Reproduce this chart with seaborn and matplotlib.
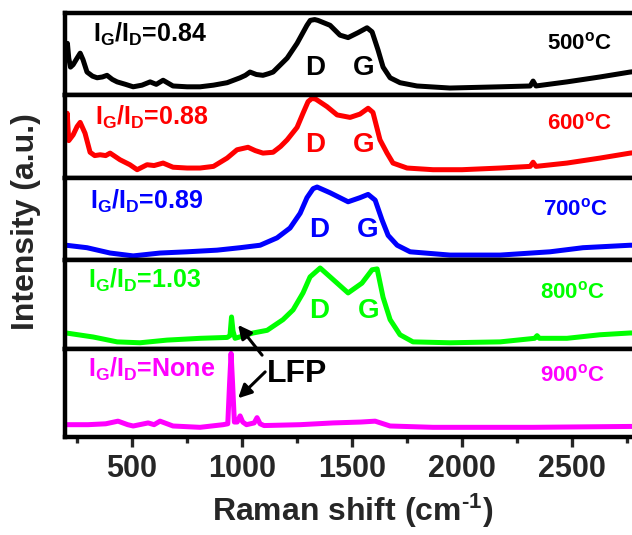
import matplotlib
matplotlib.use("Agg")
import numpy as np
import pandas as pd
import matplotlib.pyplot as plt
from matplotlib.ticker import MultipleLocator
import seaborn as sns

# ---------------- data (intensity in panel units 0..1) ----------------
temps = ["500", "600", "700", "800", "900"]
ratios = ["0.84", "0.88", "0.89", "1.03", "None"]

x_500 = [200, 206, 212, 220, 232, 250, 264, 277, 295, 320, 341, 365, 386, 410, 432, 470, 505, 545,
         582, 610, 641, 686, 750, 809, 870, 932, 991, 1015, 1036, 1065, 1095, 1120, 1141, 1175, 1205,
         1250, 1295, 1310, 1330, 1345, 1400, 1445, 1482, 1527, 1568, 1591, 1618, 1641, 1673, 1718,
         1795, 1945, 2173, 2310, 2323, 2336, 2477, 2627, 2764, 2800]
y_500 = [0.50, 0.63, 0.45, 0.34, 0.37, 0.45, 0.51, 0.43, 0.28, 0.23, 0.21, 0.22, 0.24, 0.19, 0.16,
         0.13, 0.10, 0.12, 0.16, 0.13, 0.18, 0.11, 0.10, 0.10, 0.12, 0.15, 0.21, 0.24, 0.28, 0.25,
         0.24, 0.26, 0.28, 0.37, 0.45, 0.63, 0.85, 0.91, 0.92, 0.91, 0.85, 0.73, 0.70, 0.76, 0.82,
         0.77, 0.55, 0.34, 0.21, 0.15, 0.11, 0.085, 0.10, 0.11, 0.17, 0.11, 0.16, 0.22, 0.28, 0.29]

x_600 = [200, 205, 212, 232, 250, 264, 286, 309, 330, 355, 380, 400, 445, 490, 523, 568, 600, 641,
         686, 750, 809, 870, 932, 977, 1027, 1060, 1095, 1141, 1175, 1205, 1250, 1277, 1300, 1318,
         1335, 1386, 1432, 1491, 1536, 1573, 1595, 1627, 1659, 1686, 1750, 1868, 2000, 2173, 2310,
         2323, 2336, 2477, 2627, 2764, 2800]
y_600 = [0.55, 0.78, 0.45, 0.52, 0.62, 0.67, 0.54, 0.31, 0.27, 0.28, 0.27, 0.30, 0.22, 0.16, 0.10,
         0.16, 0.15, 0.18, 0.13, 0.12, 0.12, 0.14, 0.24, 0.34, 0.37, 0.33, 0.30, 0.31, 0.38, 0.46,
         0.61, 0.78, 0.92, 0.96, 0.95, 0.86, 0.76, 0.73, 0.77, 0.84, 0.79, 0.46, 0.30, 0.18, 0.12,
         0.10, 0.10, 0.12, 0.14, 0.19, 0.14, 0.18, 0.24, 0.30, 0.31]

x_700 = [200, 295, 400, 505, 627, 750, 886, 991, 1082, 1159, 1218, 1264, 1295, 1323, 1341, 1400,
         1482, 1536, 1573, 1605, 1636, 1664, 1705, 1764, 1945, 2173, 2400, 2550, 2764, 2800]
y_700 = [0.18, 0.15, 0.085, 0.05, 0.085, 0.10, 0.12, 0.15, 0.18, 0.27, 0.39, 0.57, 0.76, 0.87,
         0.89, 0.82, 0.71, 0.76, 0.80, 0.73, 0.49, 0.30, 0.18, 0.10, 0.06, 0.06, 0.10, 0.15, 0.18,
         0.18]

x_800 = [200, 323, 432, 536, 659, 809, 932, 945, 952, 959, 968, 1050, 1114, 1186, 1232, 1277, 1309,
         1355, 1414, 1482, 1545, 1591, 1614, 1641, 1673, 1718, 1777, 1945, 2173, 2330, 2341, 2352,
         2477, 2627, 2764, 2800]
y_800 = [0.18, 0.135, 0.08, 0.07, 0.10, 0.12, 0.13, 0.15, 0.36, 0.20, 0.12, 0.18, 0.21, 0.33, 0.44,
         0.63, 0.81, 0.91, 0.78, 0.63, 0.74, 0.89, 0.90, 0.58, 0.33, 0.16, 0.08, 0.07, 0.08, 0.12,
         0.15, 0.12, 0.12, 0.16, 0.18, 0.18]

x_900 = [200, 300, 380, 436, 480, 505, 573, 600, 627, 686, 809, 914, 935, 943, 950, 957, 965, 978,
         991, 1003, 1020, 1055, 1068, 1082, 1100, 1264, 1414, 1540, 1605, 1673, 1868, 2323, 2764, 2800]
y_900 = [0.14, 0.14, 0.15, 0.18, 0.14, 0.125, 0.16, 0.14, 0.18, 0.125, 0.11, 0.14, 0.15, 0.60, 0.95,
         0.60, 0.17, 0.17, 0.24, 0.17, 0.14, 0.16, 0.22, 0.15, 0.13, 0.14, 0.16, 0.17, 0.18, 0.125,
         0.11, 0.11, 0.12, 0.12]

xs = [x_500, x_600, x_700, x_800, x_900]
ys = [y_500, y_600, y_700, y_800, y_900]

xticks_major = [500, 1000, 1500, 2000, 2500]

# ---------------- styles / layout ----------------
colors = ["#000000", "#FF0000", "#0000FF", "#00FF00", "#FF00FF"]
ratio_pos = [(323, 0.65), (332, 0.64), (309, 0.63), (300, 0.69), (300, 0.68)]
temp_pos = [(2682, 0.55), (2682, 0.58), (2664, 0.55), (2650, 0.57), (2650, 0.63)]
d_pos = [(1332, 0.24), (1332, 0.31), (1350, 0.28), (1350, 0.35)]
g_pos = [(1555, 0.24), (1555, 0.31), (1573, 0.28), (1577, 0.35)]

frames = []
for t, x, y in zip(temps, xs, ys):
    frames.append(pd.DataFrame({"shift": x, "intensity": y, "temp": t}))
df = pd.concat(frames, ignore_index=True)

sns.set_style("ticks")
plt.rcParams["font.family"] = ["Liberation Sans", "DejaVu Sans"]
plt.rcParams["font.weight"] = "bold"
plt.rcParams["mathtext.fontset"] = "custom"
plt.rcParams["mathtext.bf"] = "Liberation Sans:bold"
plt.rcParams["mathtext.rm"] = "Liberation Sans:bold"
plt.rcParams["mathtext.it"] = "Liberation Sans:bold"
plt.rcParams["mathtext.default"] = "bf"

W, H = 632, 535
fig = plt.figure(figsize=(W / 100, H / 100), dpi=100)
gs = fig.add_gridspec(5, 1, left=65 / W, right=640 / W, top=1 - 13 / H, bottom=1 - 437 / H,
                      hspace=0, height_ratios=[82, 83, 82, 89, 88])
axes = []
for i in range(5):
    ax = fig.add_subplot(gs[i], sharex=axes[0] if axes else None)
    axes.append(ax)

for i, (ax, t) in enumerate(zip(axes, temps)):
    sub = df[df["temp"] == t]
    sns.lineplot(data=sub, x="shift", y="intensity", ax=ax, color=colors[i], lw=3.6,
                 estimator=None, sort=False)
    ax.set_xlim(195, 2809)
    ax.set_ylim(0, 1)
    ax.set_yticks([])
    ax.set_xlabel("")
    ax.set_ylabel("")
    for s in ax.spines.values():
        s.set_linewidth(3.2)
        s.set_color("black")
    tr = ax.get_xaxis_transform()
    rx, ry = ratio_pos[i]
    ax.text(rx, ry, r"$I_G/I_D$=" + ratios[i], transform=tr, color=colors[i], fontsize=18,
            fontweight="bold", ha="left", va="baseline")
    tx, ty = temp_pos[i]
    ax.text(tx, ty, t + r"$^{o}$C", transform=tr, color=colors[i], fontsize=16,
            fontweight="bold", ha="right", va="baseline")
    if i < 4:
        dx, dy = d_pos[i]
        gx, gy = g_pos[i]
        ax.text(dx, dy, "D", transform=tr, color=colors[i], fontsize=20, fontweight="bold",
                ha="center", va="baseline")
        ax.text(gx, gy, "G", transform=tr, color=colors[i], fontsize=20, fontweight="bold",
                ha="center", va="baseline")
        ax.tick_params(axis="x", which="both", bottom=False, labelbottom=False)

axb = axes[-1]
axb.xaxis.set_major_locator(plt.FixedLocator(xticks_major))
axb.xaxis.set_minor_locator(MultipleLocator(250))
axb.tick_params(axis="x", which="major", direction="out", length=7, width=2.4, labelsize=22, pad=5)
axb.tick_params(axis="x", which="minor", direction="out", length=4.5, width=2.4)
for lab in axb.get_xticklabels():
    lab.set_fontweight("bold")
axb.set_xlabel(r"Raman shift (cm$^{\text{-1}}$)", fontsize=23, fontweight="bold")
axb.xaxis.label.set_va("baseline")
axb.xaxis.set_label_coords(0.5, -0.96)

fig.text(26 / W, 1 - 222 / H, "Intensity (a.u.)", rotation=90, ha="center", va="center",
         fontsize=23, fontweight="bold")

# LFP label and arrows
axb.text(1114, 0.63, "LFP", transform=axb.get_xaxis_transform(), fontsize=23,
         fontweight="bold", ha="left", va="baseline", color="black")
arrow = dict(arrowstyle="-|>", color="black", lw=2.2, mutation_scale=20, shrinkA=0, shrinkB=0)
axb.annotate("", xy=(982, 0.27), xycoords=axes[3].get_xaxis_transform(),
             xytext=(1091, 0.93), textcoords=axb.get_xaxis_transform(),
             arrowprops=arrow, annotation_clip=False)
axb.annotate("", xy=(982, 0.44), xycoords=axb.get_xaxis_transform(),
             xytext=(1105, 0.74), textcoords=axb.get_xaxis_transform(),
             arrowprops=arrow, annotation_clip=False)

fig.savefig("out.png", dpi=100)
